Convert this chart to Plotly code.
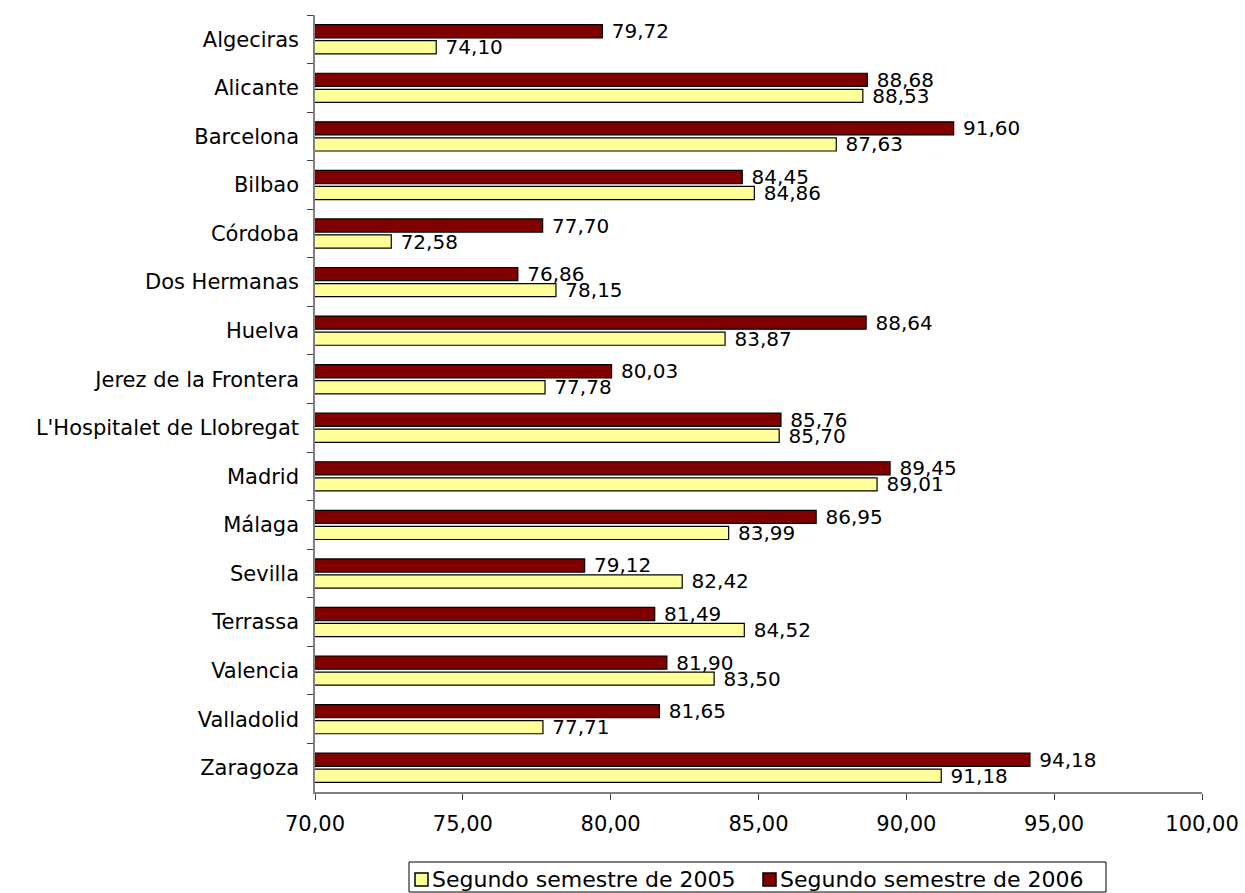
import plotly.graph_objects as go

ciudades = ["Algeciras", "Alicante", "Barcelona", "Bilbao", "Córdoba", "Dos Hermanas",
            "Huelva", "Jerez de la Frontera", "L'Hospitalet de Llobregat", "Madrid",
            "Málaga", "Sevilla", "Terrassa", "Valencia", "Valladolid", "Zaragoza"]
sem_2005 = [74.10, 88.53, 87.63, 84.86, 72.58, 78.15, 83.87, 77.78, 85.70, 89.01,
            83.99, 82.42, 84.52, 83.50, 77.71, 91.18]
sem_2006 = [79.72, 88.68, 91.60, 84.45, 77.70, 76.86, 88.64, 80.03, 85.76, 89.45,
            86.95, 79.12, 81.49, 81.90, 81.65, 94.18]
ticks_x = [70, 75, 80, 85, 90, 95, 100]
series_names = ["Segundo semestre de 2005", "Segundo semestre de 2006"]
series_colors = ["#FFFF99", "#800000"]

FAMILY = "DejaVu Sans"
axis_font = dict(family=FAMILY, size=21, color="black")
label_font = dict(family=FAMILY, size=20, color="black")

W, H = 1245, 893
L, R, T, B = 315, 43, 15, 101
PW, PH = W - L - R, H - T - B


def px_to_paper(x, y):
    return (x - L) / PW, (H - B - y) / PH


fig = go.Figure()
# 2006 is added first so it sits above 2005 in each group (y axis reversed)
fig.add_trace(go.Bar(
    name=series_names[1], y=ciudades, x=sem_2006, orientation="h",
    marker=dict(color=series_colors[1], line=dict(color="black", width=1.2)),
    texttemplate="\u00a0%{x:.2f}", textposition="outside",
    constraintext="none", textfont=label_font,
))
fig.add_trace(go.Bar(
    name=series_names[0], y=ciudades, x=sem_2005, orientation="h",
    marker=dict(color=series_colors[0], line=dict(color="black", width=1.2)),
    texttemplate="\u00a0%{x:.2f}", textposition="outside",
    constraintext="none", textfont=label_font,
))

# legend box below the axis: frame, two swatches and their labels
shapes, annotations = [], []
x0, y0 = px_to_paper(409, 862)
x1, y1 = px_to_paper(1106, 892)
shapes.append(dict(type="rect", xref="paper", yref="paper", x0=x0, x1=x1, y0=y0, y1=y1,
                   line=dict(color="black", width=1), fillcolor="white"))
for sx, name, color in zip([415, 763], series_names, series_colors):
    a0, b0 = px_to_paper(sx, 873)
    a1, b1 = px_to_paper(sx + 13, 886)
    shapes.append(dict(type="rect", xref="paper", yref="paper", x0=a0, x1=a1, y0=b0, y1=b1,
                       line=dict(color="black", width=1.5), fillcolor=color))
    tx, ty = px_to_paper(sx + 17, 879)
    annotations.append(dict(xref="paper", yref="paper", x=tx, y=ty, text=name,
                            showarrow=False, xanchor="left", yanchor="middle",
                            xshift=-2, font=dict(family=FAMILY, size=22, color="black")))

fig.update_layout(
    width=W, height=H,
    margin=dict(l=L, r=R, t=T, b=B, autoexpand=False),
    paper_bgcolor="white", plot_bgcolor="white",
    barmode="group", bargap=0.34, bargroupgap=0.18,
    separators=",.",
    font=axis_font,
    showlegend=False,
    shapes=shapes,
    annotations=annotations,
)
fig.update_xaxes(range=[70, 100], tickvals=ticks_x, tickformat=".2f",
                 showgrid=False, zeroline=False, showline=True, linecolor="#808080",
                 linewidth=1.5, ticks="outside", ticklen=6, tickcolor="#404040",
                 tickfont=axis_font, ticklabelstandoff=6)
fig.update_yaxes(autorange="reversed", showgrid=False, showline=True, linecolor="#808080",
                 linewidth=1.5, ticks="outside", ticklen=6, tickcolor="#404040",
                 tickson="boundaries", tickfont=axis_font, ticklabelstandoff=10)

fig.write_html("out.html")
